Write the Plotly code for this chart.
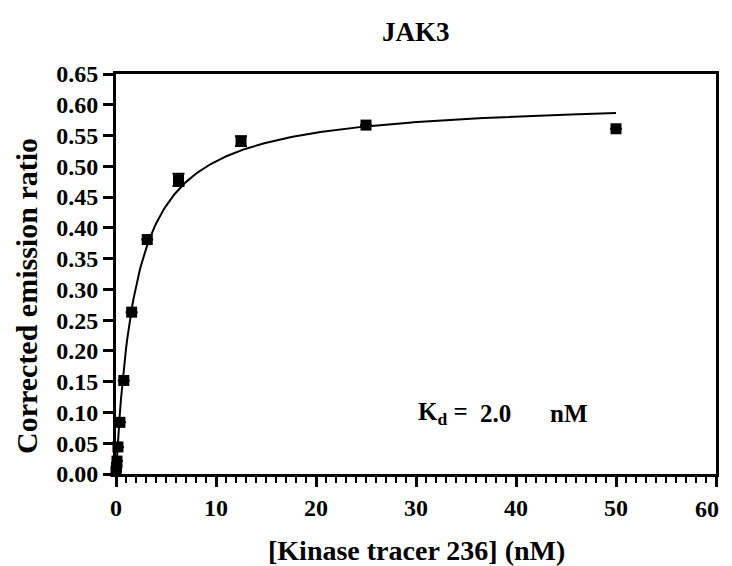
import numpy as np
import plotly.graph_objects as go

# Data
conc_nM = [50, 25, 12.5, 6.25, 3.125, 1.5625, 0.78, 0.39, 0.195, 0.098, 0.049, 0.0]
ratio = [0.561, 0.567, 0.541, 0.478, 0.381, 0.263, 0.152, 0.084, 0.044, 0.021, 0.011, 0.004]
ratio_err = [0.0, 0.0, 0.008, 0.010, 0.0, 0.0, 0.0, 0.0, 0.0, 0.0, 0.0, 0.0]

# Fit parameters (one-site binding)
Kd = 2.0
Bmax = 0.610
fit_x = np.linspace(0, 50, 400)
fit_y = Bmax * fit_x / (Kd + fit_x)

y_ticks = [round(0.05 * i, 2) for i in range(14)]
x_ticks = [0, 10, 20, 30, 40, 50, 60]

font = "Liberation Serif"
# page body has an 8px margin; size the figure so it fills the 732x566 window
OFF = 8
W, H = 732 - OFF, 566 - OFF
L, T = 116 - OFF, 74 - OFF
pw, ph = 600, 400
R, B = W - L - pw, H - T - ph

fig = go.Figure()
fig.add_trace(go.Scatter(
    x=fit_x, y=fit_y, mode="lines",
    line=dict(color="black", width=2), hoverinfo="skip", showlegend=False))
fig.add_trace(go.Scatter(
    x=conc_nM, y=ratio, mode="markers",
    marker=dict(symbol="square", size=11, color="black"),
    error_y=dict(type="data", array=ratio_err, color="black", thickness=2, width=6),
    cliponaxis=False, showlegend=False))

ann_font = dict(family=font, size=25, color="black")
fig.add_annotation(x=30, y=0.098, xref="x", yref="y", xanchor="left", yanchor="middle",
                   text="<b>K<sub>d</sub> =</b>", showarrow=False, font=ann_font)
fig.add_annotation(x=36.2, y=0.098, xref="x", yref="y", xanchor="left", yanchor="middle",
                   text="<b>2.0</b>", showarrow=False, font=ann_font)
fig.add_annotation(x=43.2, y=0.098, xref="x", yref="y", xanchor="left", yanchor="middle",
                   text="<b>nM</b>", showarrow=False, font=ann_font)

# Title and axis titles (positions given in window pixels, converted to paper coords)
def px_x(px):
    return (px - OFF - L) / pw

def px_y(py):
    return (H - B - (py - OFF)) / ph

fig.add_annotation(x=px_x(416), y=px_y(32), xref="paper", yref="paper",
                   xanchor="center", yanchor="middle", showarrow=False,
                   text="<b>JAK3</b>", font=dict(family=font, size=27, color="black"))
fig.add_annotation(x=px_x(416), y=px_y(550), xref="paper", yref="paper",
                   xanchor="center", yanchor="middle", showarrow=False,
                   text="<b>[Kinase tracer 236] (nM)</b>", font=dict(family=font, size=28, color="black"))
fig.add_annotation(x=px_x(26), y=px_y(296), xref="paper", yref="paper",
                   xanchor="center", yanchor="middle", showarrow=False, textangle=-90,
                   text="<b>Corrected emission ratio</b>", font=dict(family=font, size=30, color="black"))

# last x tick label, kept inside the visible window edge
x_ticktext = [f"<b>{v}</b>" for v in x_ticks]
last_label = x_ticktext[-1]
x_ticktext[-1] = ""
fig.add_annotation(x=px_x(721), y=px_y(509), xref="paper", yref="paper",
                   xanchor="right", yanchor="middle", showarrow=False,
                   text=last_label, font=dict(family=font, size=24, color="black"))

fig.update_layout(
    width=W, height=H,
    margin=dict(l=L, r=R, t=T, b=B),
    paper_bgcolor="white", plot_bgcolor="white",
    font=dict(family=font, color="black"),
)
fig.update_xaxes(
    range=[0, 60], tickvals=x_ticks, ticktext=x_ticktext,
    ticks="outside", ticklen=10, tickwidth=3, tickcolor="black",
    minor=dict(dtick=1, ticks="outside", ticklen=6, tickwidth=2, tickcolor="black"),
    showline=True, linewidth=3, linecolor="black", mirror=True,
    showgrid=False, zeroline=False, automargin=False,
    tickfont=dict(family=font, size=24, color="black"),
)
fig.update_yaxes(
    range=[0, 0.65], tickvals=y_ticks, ticktext=[f"<b>{v:.2f}</b>" for v in y_ticks],
    ticks="outside", ticklen=10, tickwidth=3, tickcolor="black",
    showline=True, linewidth=3, linecolor="black", mirror=True,
    showgrid=False, zeroline=False, automargin=False,
    tickfont=dict(family=font, size=24, color="black"),
)

fig.write_html("out.html")
